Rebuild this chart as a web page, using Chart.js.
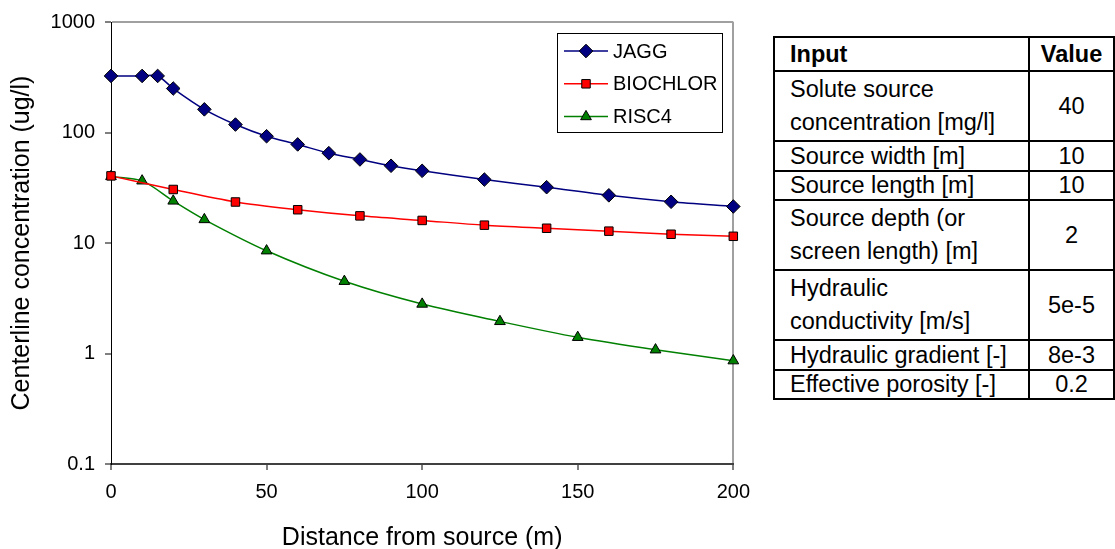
<!DOCTYPE html>
<html>
<head>
<meta charset="utf-8">
<script src="https://cdn.jsdelivr.net/npm/chart.js"></script>
<style>
  html, body { margin: 0; padding: 0; background: #fff; }
  body { width: 1115px; height: 549px; position: relative; overflow: hidden; font-family: "Liberation Sans", Arial, sans-serif; }
  #wrap { position: absolute; left: 0; top: 0; width: 760px; height: 549px; }
  table { position: absolute; left: 773px; top: 36px; border-collapse: collapse; font-size: 23.5px; color: #000; }
  td, th { border: 2px solid #000; padding: 0; }
  td.in, th.in { width: 255px; padding-left: 15px; text-align: left; box-sizing: border-box; }
  td.val, th.val { width: 83px; text-align: center; }
  th { height: 32px; line-height: 30px; font-weight: bold; }
  tr.s td { height: 27.5px; line-height: 26px; }
  tr.d td { height: 68px; line-height: 33px; }
</style>
</head>
<body>
<div id="wrap"><canvas id="c"></canvas></div>
<table id="tbl"></table>
<script>
// ---- data ----
const jaggDistance = [0, 10, 15, 20, 30, 40, 50, 60, 70, 80, 90, 100, 120, 140, 160, 180, 200];
const jaggValues   = [325, 325, 325, 250, 162, 118, 92.5, 78, 65, 57, 50, 45, 37.5, 32, 27, 23.6, 21.4];
const biochlorDistance = [0, 20, 40, 60, 80, 100, 120, 140, 160, 180, 200];
const biochlorValues   = [40.5, 30.5, 23.5, 20, 17.6, 16, 14.5, 13.6, 12.8, 12, 11.5];
const risc4Distance = [0, 10, 20, 30, 50, 75, 100, 125, 150, 175, 200];
const risc4Values   = [40, 36.5, 24, 16.3, 8.5, 4.5, 2.8, 1.95, 1.4, 1.08, 0.86];
const seriesNames = ["JAGG", "BIOCHLOR", "RISC4"];
const yTickValues = [0.1, 1, 10, 100, 1000];
const xTickValues = [0, 50, 100, 150, 200];
const xTitle = "Distance from source (m)";
const yTitle = "Centerline concentration (ug/l)";
const tableHeader = ["Input", "Value"];
const tableInputs = [["Solute source", "concentration [mg/l]"], ["Source width [m]"], ["Source length [m]"],
  ["Source depth (or", "screen length) [m]"], ["Hydraulic", "conductivity [m/s]"], ["Hydraulic gradient [-]"], ["Effective porosity [-]"]];
const tableValues = ["40", "10", "10", "2", "5e-5", "8e-3", "0.2"];

// ---- table ----
const tbl = document.getElementById('tbl');
let html = '<tr><th class="in">' + tableHeader[0] + '</th><th class="val">' + tableHeader[1] + '</th></tr>';
tableInputs.forEach((lines, i) => {
  html += '<tr class="' + (lines.length > 1 ? 'd' : 's') + '"><td class="in">' + lines.join('<br>') +
          '</td><td class="val">' + tableValues[i] + '</td></tr>';
});
tbl.innerHTML = html;

// ---- chart ----
const FONT = '"Liberation Sans", Arial, sans-serif';
const toXY = (xs, ys) => xs.map((x, i) => ({ x: x, y: ys[i] }));
const styles = [
  { color: '#000080', fill: '#000080', point: 'rectRot', r: 6.8 },
  { color: '#ff0000', fill: '#ff0000', point: 'rect', r: 6 },
  { color: '#008000', fill: '#008000', point: 'triangle', r: 6.2 }
];
const seriesData = [toXY(jaggDistance, jaggValues), toXY(biochlorDistance, biochlorValues), toXY(risc4Distance, risc4Values)];

const legendPlugin = {
  id: 'boxLegend',
  afterDraw(chart) {
    const ctx = chart.ctx;
    const bx = 557, by = 33, bw = 165, bh = 99;
    ctx.save();
    ctx.fillStyle = '#fff';
    ctx.fillRect(bx, by, bw, bh);
    ctx.strokeStyle = '#000';
    ctx.lineWidth = 1;
    ctx.strokeRect(bx + 0.5, by + 0.5, bw, bh);
    chart.data.datasets.forEach((ds, i) => {
      const y = 51 + i * 32.8;
      ctx.strokeStyle = ds.borderColor;
      ctx.lineWidth = 1.5;
      ctx.beginPath(); ctx.moveTo(564, y); ctx.lineTo(608, y); ctx.stroke();
      ctx.fillStyle = ds.pointBackgroundColor;
      ctx.strokeStyle = '#000';
      ctx.lineWidth = 1;
      Chart.helpers.drawPoint(ctx, { pointStyle: ds.pointStyle, radius: ds.pointRadius, borderWidth: 1, rotation: 0 }, 586, y);
      ctx.fillStyle = '#000';
      ctx.font = '20px ' + FONT;
      ctx.textBaseline = 'middle';
      ctx.textAlign = 'left';
      ctx.fillText(ds.label, 613, y + 1);
    });
    ctx.restore();
  }
};

new Chart(document.getElementById('c'), {
  type: 'line',
  data: {
    datasets: seriesNames.map((name, i) => ({
      label: name,
      data: seriesData[i],
      borderColor: styles[i].color,
      borderWidth: 1.5,
      pointStyle: styles[i].point,
      pointRadius: styles[i].r,
      pointHoverRadius: styles[i].r,
      pointBackgroundColor: styles[i].fill,
      pointBorderColor: '#000',
      pointBorderWidth: 1,
      tension: 0.3,
      fill: false,
      clip: false
    }))
  },
  options: {
    responsive: true,
    maintainAspectRatio: false,
    animation: false,
    events: [],
    layout: { padding: { left: 0, right: 25, top: 22, bottom: 0 } },
    plugins: { legend: { display: false }, tooltip: { enabled: false } },
    scales: {
      x: {
        type: 'linear', min: 0, max: 200,
        afterBuildTicks: s => { s.ticks = xTickValues.map(v => ({ value: v })); },
        afterFit: s => { s.height = 85; },
        ticks: { color: '#000', padding: 10, font: { family: FONT, size: 20 }, maxRotation: 0 },
        grid: {
          drawOnChartArea: true, drawTicks: true, tickLength: 6,
          color: c => (c.tick && c.tick.value === 200) ? '#a0a0a0' : 'rgba(0,0,0,0)',
          lineWidth: 2, tickColor: '#000', tickWidth: 1
        },
        border: { display: true, color: '#404040', width: 2 },
        title: { display: true, text: xTitle, color: '#000', font: { family: FONT, size: 25, lineHeight: 1 }, padding: { top: 0, bottom: -2 } }
      },
      y: {
        type: 'logarithmic', min: 0.1, max: 1000,
        afterBuildTicks: s => { s.ticks = yTickValues.map(v => ({ value: v })); },
        afterFit: s => { s.width = 111; },
        ticks: { color: '#000', padding: 10, font: { family: FONT, size: 20 }, callback: v => String(v) },
        grid: {
          drawOnChartArea: true, drawTicks: true, tickLength: 6,
          color: c => (c.tick && c.tick.value === 1000) ? '#a0a0a0' : 'rgba(0,0,0,0)',
          lineWidth: 2, tickColor: '#000', tickWidth: 1
        },
        border: { display: true, color: '#000', width: 1 },
        title: { display: true, text: yTitle, color: '#000', font: { family: FONT, size: 25, lineHeight: 1 }, padding: { top: 9.5, bottom: 0 } }
      }
    }
  },
  plugins: [legendPlugin]
});
</script>
</body>
</html>
